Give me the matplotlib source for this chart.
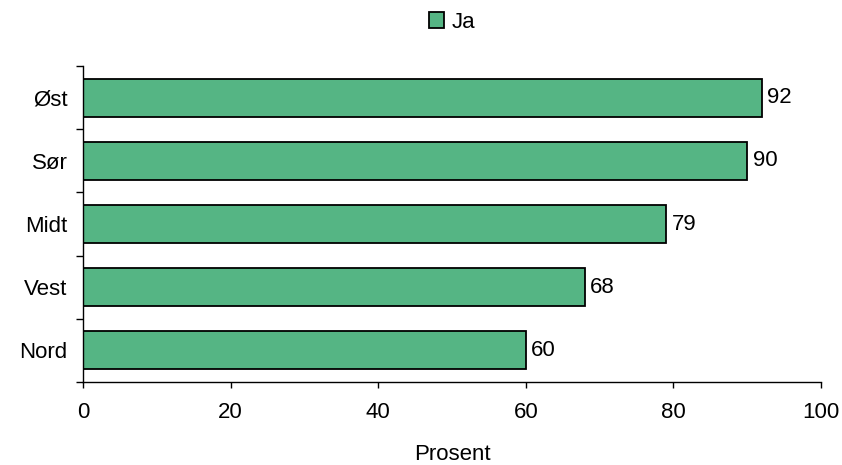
import matplotlib
matplotlib.use("Agg")
import matplotlib.pyplot as plt
from matplotlib.patches import Patch

# Share answering "Ja", per region
regions = ["Nord", "Vest", "Midt", "Sør", "Øst"]
ja = [60, 68, 79, 90, 92]
xticks = [0, 20, 40, 60, 80, 100]

BAR_COLOR = "#55b584"
FS = 16

plt.rcParams["font.family"] = ["Liberation Sans", "DejaVu Sans"]

fig = plt.figure(figsize=(8.42, 4.65), dpi=100)
ax = fig.add_axes([0.0986, 0.1785, 0.8764, 0.6795])

pos = list(range(len(regions)))
ax.barh(pos, ja, height=0.6, color=BAR_COLOR, edgecolor="black", linewidth=1.3)
for y, v in zip(pos, ja):
    ax.annotate(f"{v}", (v, y), xytext=(4, 0), textcoords="offset points",
                va="center", ha="left", fontsize=FS)

ax.set_xlim(0, 100)
ax.set_ylim(-0.5, len(regions) - 0.5)
ax.set_xticks(xticks)
ax.set_xticklabels([str(t) for t in xticks], fontsize=FS)
ax.tick_params(axis="x", direction="out", length=4.5, width=1, pad=10)

# category labels at bar centres, tick marks on the boundaries between them
ax.set_yticks(pos)
ax.set_yticklabels(regions, fontsize=FS)
ax.tick_params(axis="y", which="major", length=0, pad=11)
ax.set_yticks([p - 0.5 for p in pos] + [len(regions) - 0.5], minor=True)
ax.tick_params(axis="y", which="minor", direction="out", length=5, width=1)

for side in ("top", "right"):
    ax.spines[side].set_visible(False)
for side in ("left", "bottom"):
    ax.spines[side].set_linewidth(1)

ax.set_xlabel("Prosent", fontsize=FS, labelpad=15)

handle = Patch(facecolor=BAR_COLOR, edgecolor="black", linewidth=1.3, label="Ja")
fig.legend(handles=[handle], loc="center", bbox_to_anchor=(0.537, 0.952),
           frameon=False, fontsize=FS, handlelength=0.7, handleheight=0.7,
           handletextpad=0.35, borderpad=0)

fig.savefig("out.png", dpi=100)
